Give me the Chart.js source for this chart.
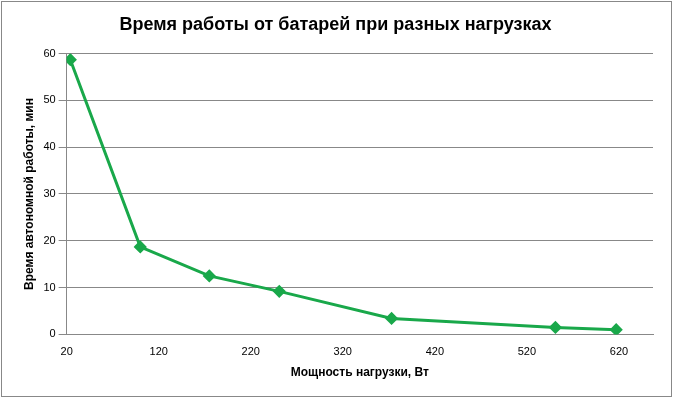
<!DOCTYPE html>
<html><head><meta charset="utf-8">
<script src="https://cdn.jsdelivr.net/npm/chart.js@4"></script>
<style>body{margin:0;background:#fff}#w{position:absolute;left:1px;top:1px;width:671px;height:396px;border:1px solid #888;box-sizing:border-box}</style>
</head><body><div id="w"><canvas id="c"></canvas></div>
<script>
const loads=[24,100,175,251,373,551,617];
const minutes=[58.7,18.7,12.5,9.2,3.4,1.5,1.0];
const xTicks=[20,120,220,320,420,520,620];
const yTicks=[0,10,20,30,40,50,60];
new Chart(document.getElementById('c'),{type:'scatter',
data:{datasets:[{data:loads.map((x,i)=>({x,y:minutes[i]})),showLine:true,borderColor:'#19a84a',backgroundColor:'#19a84a',borderWidth:3,pointStyle:'rectRot',pointRadius:4.5,tension:0}]},
options:{responsive:true,maintainAspectRatio:false,animation:false,
layout:{padding:{left:16,right:18,top:4,bottom:12}},
plugins:{legend:{display:false},tooltip:{enabled:false},
title:{display:true,text:'Время работы от батарей при разных нагрузках',color:'#000',font:{family:'Liberation Sans',size:18,weight:'bold'},padding:{top:8,bottom:18}}},
scales:{x:{type:'linear',min:20,max:657,afterBuildTicks:a=>{a.ticks=xTicks.map(v=>({value:v}))},
grid:{display:false},border:{color:'#888'},ticks:{color:'#000',font:{family:'Liberation Sans',size:11},maxRotation:0},
title:{display:true,text:'Мощность нагрузки, Вт',color:'#000',font:{family:'Liberation Sans',size:12,weight:'bold'}}},
y:{min:0,max:60,afterBuildTicks:a=>{a.ticks=yTicks.map(v=>({value:v}))},
grid:{color:'#888',drawTicks:true},border:{color:'#888'},ticks:{color:'#000',font:{family:'Liberation Sans',size:11}},
title:{display:true,text:'Время автономной работы, мин',color:'#000',font:{family:'Liberation Sans',size:12,weight:'bold'}}}}}});
</script></body></html>
